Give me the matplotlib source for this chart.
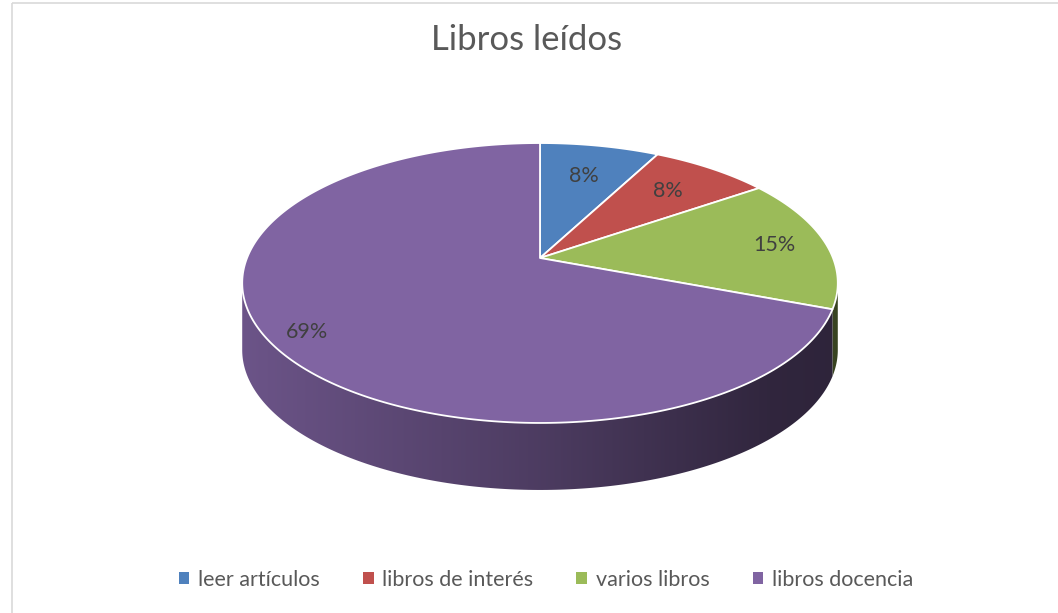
import numpy as np
import matplotlib.pyplot as plt
from matplotlib.patches import Polygon, Rectangle, Patch

# data
title = "Libros leídos"
categories = ["leer artículos", "libros de interés", "varios libros", "libros docencia"]
values = [1, 1, 2, 9]
colors = ["#4f81bd", "#c0504d", "#9bbb59", "#8064a2"]
label_radius = [0.70, 0.72, 0.82, 0.88]

plt.rcParams["font.family"] = ["Lato", "DejaVu Sans"]

W, H = 1058, 613
fig = plt.figure(figsize=(W / 100, H / 100), dpi=100)
ax = fig.add_axes([0, 0, 1, 1])
ax.set_xlim(0, W)
ax.set_ylim(H, 0)
ax.axis("off")

# chart border
ax.add_patch(Rectangle((12, 3), 1100, 700, fill=False, edgecolor="#d9d9d9", lw=1.2))

# perspective disc: x right, y towards the back
cx, cy = 540, 258
a, b, d = 293, 135.5, 0.1786
depth = 67


def proj(theta, r=1.0, drop=0.0):
    x = r * np.cos(theta)
    y = r * np.sin(theta)
    w = 1 + d * y
    return cx + a * x / w, cy - b * y / w + drop


vals = np.array(values, dtype=float)
frac = vals / vals.sum()
starts = np.pi / 2 - 2 * np.pi * np.concatenate([[0], np.cumsum(frac)[:-1]])
ends = starts - 2 * np.pi * frac

# visible side (front) angle range
vis_lo = -np.pi + np.arcsin(d)
vis_hi = -np.arcsin(d)

xs_grad = np.linspace(0, W, 600)
shade = np.interp(xs_grad, [243, 540, 770, 840], [0.84, 0.60, 0.38, 0.36])

for s, e, col in zip(starts, ends, colors):
    base = np.array(plt.matplotlib.colors.to_rgb(col))
    for k in (-1, 0, 1):
        lo = max(e + 2 * np.pi * k, vis_lo)
        hi = min(s + 2 * np.pi * k, vis_hi)
        if hi <= lo:
            continue
        t = np.linspace(lo, hi, 200)
        tx, ty = proj(t)
        bx, by = proj(t[::-1], drop=depth)
        poly = Polygon(np.column_stack([np.r_[tx, bx], np.r_[ty, by]]),
                       closed=True, facecolor="none", edgecolor="none")
        ax.add_patch(poly)
        img = (base[None, :] * shade[:, None])[None, :, :]
        im = ax.imshow(img, extent=(0, W, H, 0), aspect="auto",
                       interpolation="bilinear", zorder=1)
        im.set_clip_path(poly)
        ax.set_xlim(0, W)
        ax.set_ylim(H, 0)

# top face
for s, e, col in zip(starts, ends, colors):
    t = np.linspace(s, e, 300)
    px, py = proj(t)
    pts = np.column_stack([np.r_[cx, px], np.r_[cy, py]])
    ax.add_patch(Polygon(pts, closed=True, facecolor=col, edgecolor="white",
                         lw=1.3, joinstyle="round", zorder=3))

# data labels
for s, e, v, r in zip(starts, ends, frac, label_radius):
    mx, my = proj((s + e) / 2, r=r)
    ax.text(mx, my, f"{v * 100:.0f}%", ha="center", va="center",
            fontsize=15.5, color="#404040", zorder=5)

ax.text(527, 40, title, ha="center", va="center", fontsize=25, color="#595959")

handles = [Patch(facecolor=c, edgecolor="none") for c in colors]
fig.legend(handles, categories, loc="center", bbox_to_anchor=(546 / W, (H - 580) / H),
           ncol=4, frameon=False, fontsize=15.5, handlelength=0.5, handleheight=0.5,
           handletextpad=0.4, columnspacing=2.0, labelcolor="#595959")

fig.savefig("out.png", dpi=100)
